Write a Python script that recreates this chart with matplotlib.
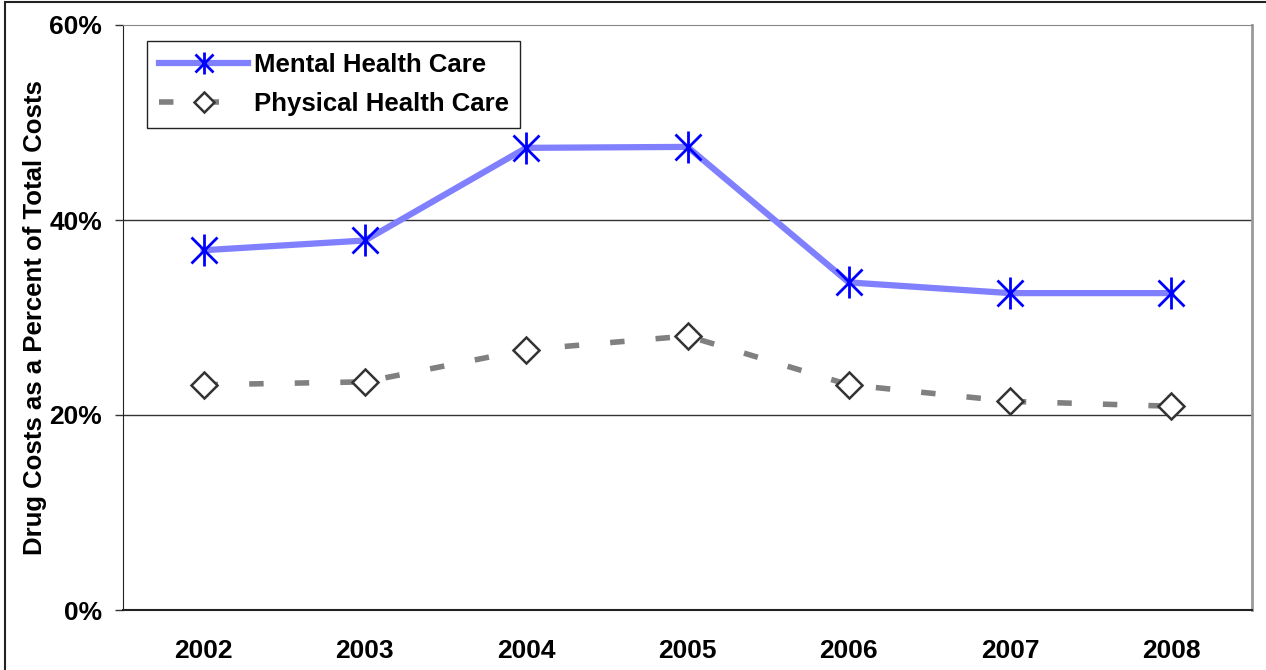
import matplotlib.pyplot as plt
from matplotlib.patches import Rectangle
from matplotlib.lines import Line2D
from matplotlib.ticker import FuncFormatter

years = ["2002", "2003", "2004", "2005", "2006", "2007", "2008"]
mental = [36.9, 37.9, 47.4, 47.5, 33.6, 32.5, 32.5]
physical = [23.1, 23.4, 26.7, 28.1, 23.1, 21.4, 20.9]

plt.rcParams["font.family"] = ["Liberation Sans", "DejaVu Sans"]
plt.rcParams["font.weight"] = "bold"

W, H = 1266, 670
fig = plt.figure(figsize=(W / 100, H / 100), dpi=100)
ax = fig.add_axes([123 / W, 1 - 610 / H, (1252 - 123) / W, (610 - 25) / H])

# outer frame of the picture
fig.patches.append(Rectangle((5 / W, -0.05), 1.2, 1 - 1.5 / H + 0.05,
                             transform=fig.transFigure, fill=False,
                             edgecolor="#222222", linewidth=1.5))

x = range(len(years))

ax.plot(x, mental, color="#8080ff", linewidth=4.5, zorder=3)
ax.plot(x, mental, linestyle="none", marker="x", markersize=19,
        markeredgewidth=2, color="#0000ff", zorder=4)
ax.plot(x, mental, linestyle="none", marker="|", markersize=23,
        markeredgewidth=2, color="#0000ff", zorder=4)

ax.plot(x, physical, color="#808080", linewidth=4,
        linestyle=(0, (2.6, 5.6)), dash_capstyle="butt", zorder=3)
ax.plot(x, physical, linestyle="none", marker="D", markersize=13,
        markerfacecolor="white", markeredgecolor="#333333",
        markeredgewidth=1.8, zorder=4)

ax.set_xlim(-0.5, 6.5)
ax.set_ylim(0, 60)
ax.set_yticks([0, 20, 40, 60])
ax.yaxis.set_major_formatter(FuncFormatter(lambda v, p: f"{int(v)}%"))
ax.set_xticks(list(x))
ax.set_xticklabels(years)
ax.tick_params(axis="x", length=0, pad=21, labelsize=19)
ax.tick_params(axis="y", length=6, width=1, pad=9, labelsize=19,
               color="#333333")

for v in [20, 40]:
    ax.axhline(v, color="#333333", linewidth=1, zorder=1)

ax.spines["left"].set_color("#222222")
ax.spines["bottom"].set_color("#222222")
ax.spines["bottom"].set_linewidth(1.5)
ax.spines["top"].set_color("#888888")
ax.spines["right"].set_color("#999999")
ax.spines["right"].set_linewidth(2)

ax.set_ylabel("Drug Costs as a Percent of Total Costs", fontsize=18.5,
              fontweight="bold", labelpad=2)

handles = [
    (Line2D([], [], color="#8080ff", linewidth=4.5),
     Line2D([], [], linestyle="none", marker="x", markersize=13,
            markeredgewidth=2, color="#0000ff"),
     Line2D([], [], linestyle="none", marker="|", markersize=16,
            markeredgewidth=2, color="#0000ff")),
    (Line2D([], [], color="#808080", linewidth=4,
            linestyle=(0, (2.6, 5.6)), dash_capstyle="butt"),
     Line2D([], [], linestyle="none", marker="D", markersize=10,
            markerfacecolor="white", markeredgecolor="#333333",
            markeredgewidth=1.8)),
]
leg = ax.legend(handles, ["Mental Health Care", "Physical Health Care"],
                loc="upper left", bbox_to_anchor=(24 / 1129, 1 - 16 / 585),
                fontsize=18.5, handlelength=3.5, handletextpad=0.2,
                labelspacing=0.62, borderpad=0.45, borderaxespad=0,
                frameon=True, fancybox=False, edgecolor="#222222",
                framealpha=1)
leg.get_frame().set_linewidth(1)

fig.savefig("out.png", dpi=100)
